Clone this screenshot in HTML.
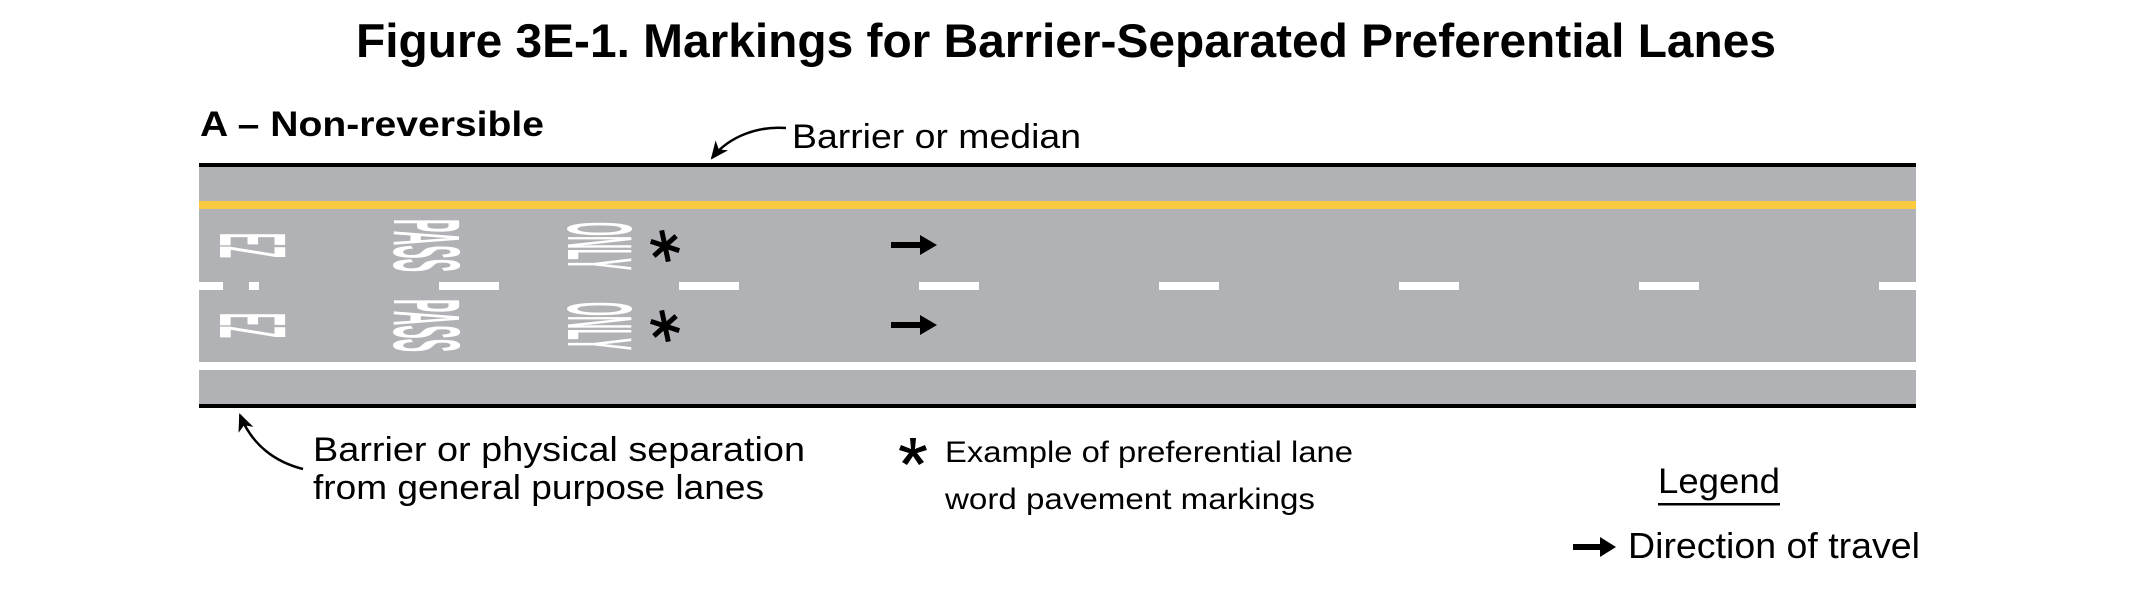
<!DOCTYPE html>
<html><head><meta charset="utf-8"><style>
html,body{margin:0;padding:0;background:#fff;}
svg{display:block;}
text{font-family:"Liberation Sans",Arial,sans-serif;}
</style></head><body>
<svg width="2138" height="614" viewBox="0 0 2138 614" xmlns="http://www.w3.org/2000/svg">
<defs>
<marker id="ah2" markerWidth="18" markerHeight="16" refX="16" refY="8" orient="auto" markerUnits="userSpaceOnUse">
<path d="M0,0 L18,8 L0,16 L5,8 Z" fill="#000"/>
</marker>
</defs>
<text x="356" y="57" font-size="47" font-weight="bold" textLength="1420" lengthAdjust="spacingAndGlyphs">Figure 3E-1.  Markings for Barrier-Separated Preferential Lanes</text>
<text x="200" y="136" font-size="35" font-weight="bold" textLength="344" lengthAdjust="spacingAndGlyphs">A – Non-reversible</text>
<text x="792" y="148" font-size="34" textLength="289" lengthAdjust="spacingAndGlyphs">Barrier or median</text>
<path d="M786,128 C760,126 730,135 712,158" fill="none" stroke="#000" stroke-width="2.5" marker-end="url(#ah2)"/>

<!-- road -->
<rect x="199" y="163" width="1717" height="245" fill="#b1b2b5"/>
<rect x="199" y="163" width="1717" height="4" fill="#000"/>
<rect x="199" y="201" width="1717" height="8" fill="#fdca3f"/>
<rect x="199" y="362" width="1717" height="8" fill="#fff"/>
<rect x="199" y="404" width="1717" height="4" fill="#000"/>
<g fill="#fff">
<rect x="199" y="282" width="24" height="8"/>
<rect x="249" y="282" width="10" height="8"/>
<rect x="439" y="282" width="60" height="8"/>
<rect x="679" y="282" width="60" height="8"/>
<rect x="919" y="282" width="60" height="8"/>
<rect x="1159" y="282" width="60" height="8"/>
<rect x="1399" y="282" width="60" height="8"/>
<rect x="1639" y="282" width="60" height="8"/>
<rect x="1879" y="282" width="37" height="8"/>
</g>
<!-- word markings rotated -->
<g fill="#fff" font-weight="bold">
<text transform="translate(220,233) rotate(90)" font-size="95" textLength="25" lengthAdjust="spacingAndGlyphs">EZ</text>
<text transform="translate(220,313) rotate(90)" font-size="95" textLength="25" lengthAdjust="spacingAndGlyphs">EZ</text>
<text transform="translate(394,219) rotate(90)" font-size="95" textLength="53" lengthAdjust="spacingAndGlyphs">PASS</text>
<text transform="translate(394,299) rotate(90)" font-size="95" textLength="53" lengthAdjust="spacingAndGlyphs">PASS</text>
<text transform="translate(568,222) rotate(90)" font-size="92" textLength="48" lengthAdjust="spacingAndGlyphs">ONLY</text>
<text transform="translate(568,302) rotate(90)" font-size="92" textLength="48" lengthAdjust="spacingAndGlyphs">ONLY</text>
</g>
<!-- asterisks -->
<g stroke="#000" stroke-width="5">
<g transform="translate(665,246)"><line x1="0" y1="-16" x2="0" y2="16" transform="rotate(-12)"/><line x1="0" y1="-15" x2="0" y2="15" transform="rotate(48)"/><line x1="0" y1="-15" x2="0" y2="15" transform="rotate(108)"/></g>
<g transform="translate(665,326)"><line x1="0" y1="-16" x2="0" y2="16" transform="rotate(-12)"/><line x1="0" y1="-15" x2="0" y2="15" transform="rotate(48)"/><line x1="0" y1="-15" x2="0" y2="15" transform="rotate(108)"/></g>
</g>
<!-- direction arrows -->
<g fill="#000">
<path d="M891,242 L920,242 L920,235 L937,245 L920,255 L920,248 L891,248 Z"/>
<path d="M891,322 L920,322 L920,315 L937,325 L920,335 L920,328 L891,328 Z"/>
<path d="M1573,544 L1600,544 L1600,537 L1616,547 L1600,557 L1600,550 L1573,550 Z"/>
</g>
<!-- bottom-left label -->
<path d="M303,469 C275,462 252,445 240,415" fill="none" stroke="#000" stroke-width="2.5" marker-end="url(#ah2)"/>
<text x="313" y="461" font-size="34" textLength="492" lengthAdjust="spacingAndGlyphs">Barrier or physical separation</text>
<text x="313" y="499" font-size="34" textLength="451" lengthAdjust="spacingAndGlyphs">from general purpose lanes</text>
<!-- footnote -->
<g transform="translate(913,452)" fill="#000">
<path d="M-3,-14 L3,-14 L2,-3 L12,-7 L14,-2 L4,1 L11,10 L6,13 L0,4 L-6,13 L-11,10 L-4,1 L-14,-2 L-12,-7 L-2,-3 Z"/>
</g>
<text x="945" y="462" font-size="30" textLength="408" lengthAdjust="spacingAndGlyphs">Example of preferential lane</text>
<text x="945" y="509" font-size="30" textLength="370" lengthAdjust="spacingAndGlyphs">word pavement markings</text>
<!-- legend -->
<text x="1658" y="493" font-size="35" textLength="122" lengthAdjust="spacingAndGlyphs">Legend</text>
<rect x="1658" y="503" width="122" height="2.5" fill="#000"/>
<text x="1628" y="558" font-size="36" textLength="292" lengthAdjust="spacingAndGlyphs">Direction of travel</text>
</svg>
</body></html>
